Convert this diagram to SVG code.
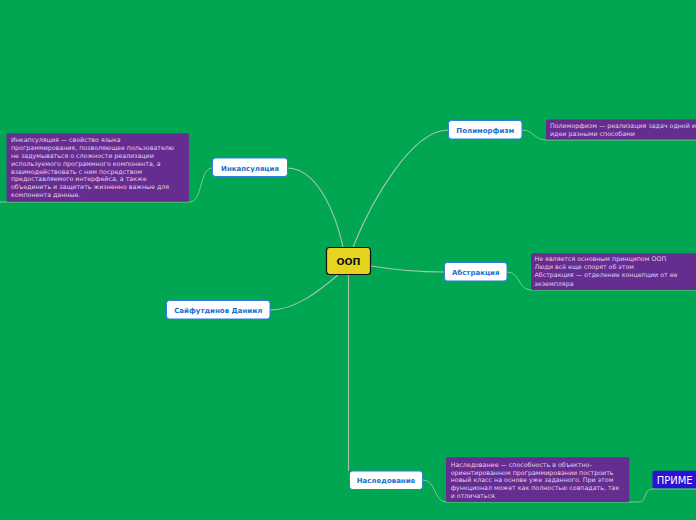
<svg xmlns="http://www.w3.org/2000/svg" width="696" height="520" viewBox="0 0 696 520">
<style>
.node{fill:#ffffff;stroke:#2f7de1;stroke-width:1}
.nl{font-family:"DejaVu Sans",sans-serif;font-weight:bold;font-size:7px;fill:#1b6fd0;text-anchor:middle}
.note{fill:#662d91}
.nt{font-family:"DejaVu Sans",sans-serif;font-size:6.3px;fill:#e2cfe9}
.c{fill:none;stroke:#abc4ae;stroke-width:1.1}
.cn{fill:none;stroke:#7dc98e;stroke-width:1}
</style>
<rect width="696" height="520" fill="#00a651"/>
<g id="connectors">
<path class="c" d="M343,247 C336,215 318,168 287,168"/>
<path class="c" d="M353,247 C372,200 412,130 448,130"/>
<path class="c" d="M371,266 C395,270 420,272 444,272"/>
<path class="c" d="M338,275 C320,290 296,310 270,310"/>
<path class="c" d="M348.5,275 L348.5,471"/>
<path class="cn" d="M212,168 C200,168 202,202 190,202 L0,202"/>
<path class="cn" d="M522,130 C534,130 534,140 546,140 L696,140"/>
<path class="cn" d="M507,272 C520,272 518,290 531,290 L696,290"/>
<path class="cn" d="M423,480 C436,480 434,502 446,502 L640,502 C646,502 644,489 652,489 L696,489"/>
</g>
<g id="oop">
<rect x="326.5" y="247.5" width="44" height="27" rx="3" fill="#e6d41e" stroke="#111" stroke-width="1.2"/>
<text x="348.5" y="265" font-family="DejaVu Sans,sans-serif" font-weight="bold" font-size="9.5" text-anchor="middle" fill="#111">ООП</text>
</g>
<g id="encapsulation">
<rect class="node" x="212.5" y="158" width="75" height="18.5" rx="3"/>
<text class="nl" x="250" y="170.5">Инкапсуляция</text>
</g>
<g id="polymorphism">
<rect class="node" x="448.5" y="120.5" width="73.5" height="18.5" rx="3"/>
<text class="nl" x="485.3" y="132.7">Полиморфизм</text>
</g>
<g id="abstraction">
<rect class="node" x="444.5" y="262.5" width="62.5" height="18.5" rx="3"/>
<text class="nl" x="475.7" y="274.5">Абстракция</text>
</g>
<g id="author">
<rect class="node" x="166.5" y="300.5" width="103.5" height="18.5" rx="3"/>
<text class="nl" x="218.2" y="312.5">Сайфутдинов Даниил</text>
</g>
<g id="inheritance">
<rect class="node" x="349.5" y="471" width="73" height="18.5" rx="3"/>
<text class="nl" x="386" y="483">Наследование</text>
</g>
<g id="note-encapsulation">
<rect class="note" x="6.5" y="133.3" width="182.5" height="68.5" rx="1.5"/>
<text class="nt" x="11" y="142.2">Инкапсуляция — свойство языка</text>
<text class="nt" x="11" y="150.3">программирования, позволяющее пользователю</text>
<text class="nt" x="11" y="158.1">не задумываться о сложности реализации</text>
<text class="nt" x="11" y="166">используемого программного компонента, а</text>
<text class="nt" x="11" y="173.7">взаимодействовать с ним посредством</text>
<text class="nt" x="11" y="181.2">предоставляемого интерфейса, а также</text>
<text class="nt" x="11" y="189">объединить и защитить жизненно важные для</text>
<text class="nt" x="11" y="196.7">компонента данные.</text>
</g>
<g id="note-polymorphism">
<rect class="note" x="546" y="119.5" width="152" height="20" rx="1.5"/>
<text class="nt" x="550" y="127.5">Полиморфизм — реализация задач одной и</text>
<text class="nt" x="550" y="136.2">идеи разными способами</text>
</g>
<g id="note-abstraction">
<rect class="note" x="531" y="253.3" width="167" height="36.7" rx="1.5"/>
<text class="nt" x="534.5" y="261.2">Не является основным принципом ООП</text>
<text class="nt" x="534.5" y="269">Люди всё еще спорят об этом</text>
<text class="nt" x="534.5" y="277.2">Абстракция — отделение концепции от ее</text>
<text class="nt" x="534.5" y="285.5">экземпляра</text>
</g>
<g id="note-inheritance">
<rect class="note" x="446" y="457.3" width="183.3" height="44.7" rx="1.5"/>
<text class="nt" x="450.7" y="467.2">Наследование — способность в объектно-</text>
<text class="nt" x="450.7" y="474.6">ориентированном программировании построить</text>
<text class="nt" x="450.7" y="482.2">новый класс на основе уже заданного. При этом</text>
<text class="nt" x="450.7" y="489.9">функционал может как полностью совпадать, так</text>
<text class="nt" x="450.7" y="497.5">и отличаться.</text>
</g>
<g id="example">
<rect x="652.5" y="470.7" width="50" height="17.5" rx="2" fill="#2d10d6"/>
<text x="656.7" y="483.5" font-family="DejaVu Sans,sans-serif" font-size="10" fill="#ffffff">ПРИМЕ</text>
</g>
</svg>
